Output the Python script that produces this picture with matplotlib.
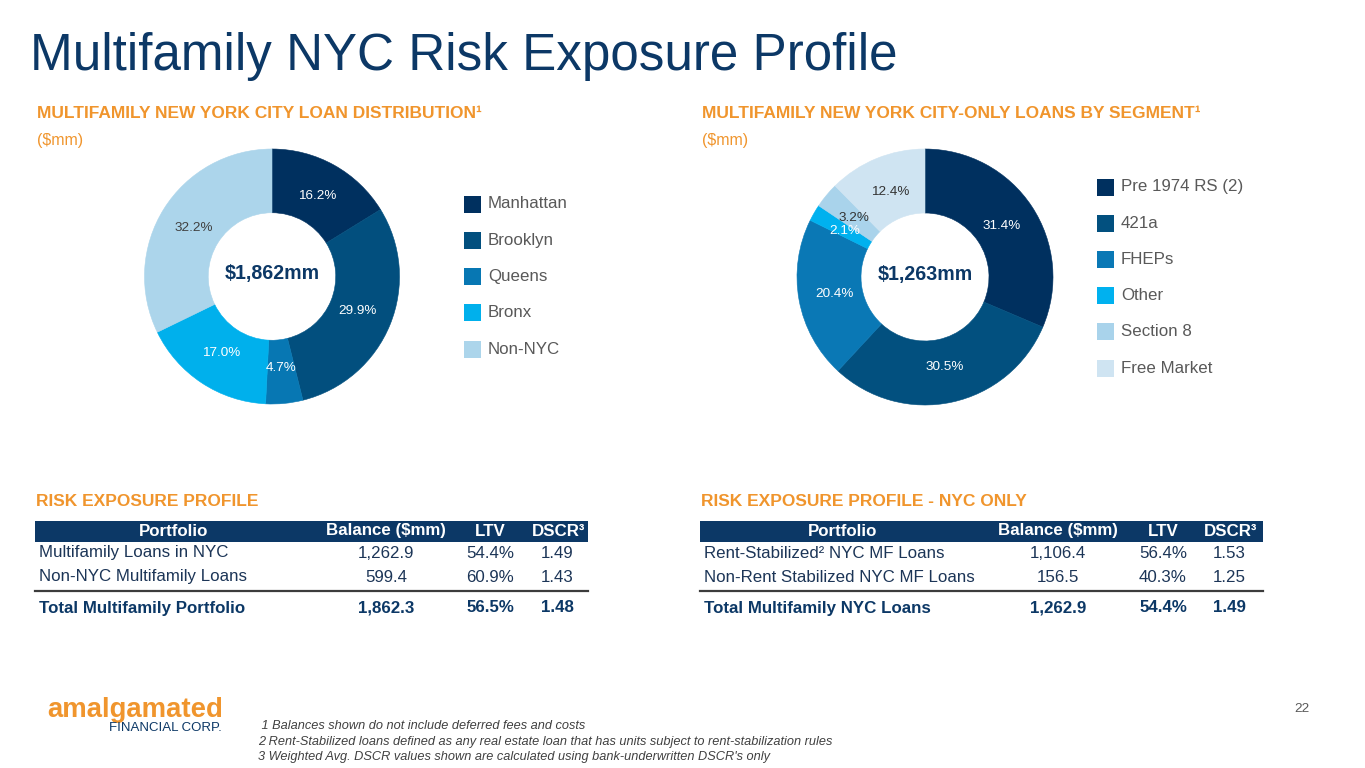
import matplotlib
matplotlib.use("Agg")
import matplotlib.pyplot as plt
from matplotlib.patches import Rectangle
from matplotlib.lines import Line2D
from matplotlib import font_manager

# ---------------- data ----------------
title = "Multifamily NYC Risk Exposure Profile"

dist_labels = ["Manhattan", "Brooklyn", "Queens", "Bronx", "Non-NYC"]
dist_values = [16.2, 29.9, 4.7, 17.0, 32.2]
dist_total = "$1,862mm"

seg_labels = ["Pre 1974 RS (2)", "421a", "FHEPs", "Other", "Section 8", "Free Market"]
seg_values = [31.4, 30.5, 20.4, 2.1, 3.2, 12.4]
seg_total = "$1,263mm"

table_cols = ["Portfolio", "Balance ($mm)", "LTV", "DSCR³"]

t1_rows = ["Multifamily Loans in NYC", "Non-NYC Multifamily Loans"]
t1_balance = [1262.9, 599.4]
t1_ltv = [54.4, 60.9]
t1_dscr = [1.49, 1.43]
t1_total_label = "Total Multifamily Portfolio"
t1_total = [1862.3, 56.5, 1.48]

t2_rows = ["Rent-Stabilized² NYC MF Loans", "Non-Rent Stabilized NYC MF Loans"]
t2_balance = [1106.4, 156.5]
t2_ltv = [56.4, 40.3]
t2_dscr = [1.53, 1.25]
t2_total_label = "Total Multifamily NYC Loans"
t2_total = [1262.9, 54.4, 1.49]

footnotes = [" 1 Balances shown do not include deferred fees and costs",
             "2 Rent-Stabilized loans defined as any real estate loan that has units subject to rent-stabilization rules",
             "3 Weighted Avg. DSCR values shown are calculated using bank-underwritten DSCR's only"]

# ---------------- style ----------------
NAVY = "#0c3866"
ORANGE = "#f0952d"
GREY = "#595959"
ROWTXT = "#1c3557"
dist_colors = ["#00305f", "#024f7e", "#0777b3", "#00b0ec", "#acd5eb"]
dist_lblcol = ["white", "white", "white", "white", "#404040"]
seg_colors = ["#00305f", "#02507f", "#0a78b5", "#00b1ef", "#a9d3eb", "#cfe4f2"]
seg_lblcol = ["white", "white", "white", "white", "#333333", "#333333"]

FONT = "Liberation Sans"
names = {f.name for f in font_manager.fontManager.ttflist}
NARROW = "Liberation Sans Narrow" if "Liberation Sans Narrow" in names else FONT
plt.rcParams["font.family"] = [FONT, "DejaVu Sans"]

W, H = 1365, 768
fig = plt.figure(figsize=(W / 100, H / 100), dpi=100)
fig.patch.set_facecolor("white")


def fx(x):
    return x / W


def fy(y):
    return 1 - y / H


def txt(x, y, s, **kw):
    kw.setdefault("va", "center")
    return fig.text(fx(x), fy(y), s, **kw)


# title
txt(30, 70, title, fontsize=36.8, color=NAVY, va="baseline")

# section headers
txt(37, 113, "MULTIFAMILY NEW YORK CITY LOAN DISTRIBUTION¹", fontsize=12.5,
    color=ORANGE, fontweight="bold")
txt(37, 141, "($mm)", fontsize=11.5, color=ORANGE)
txt(702, 113, "MULTIFAMILY NEW YORK CITY-ONLY LOANS BY SEGMENT¹", fontsize=12.5,
    color=ORANGE, fontweight="bold")
txt(702, 141, "($mm)", fontsize=11.5, color=ORANGE)


def donut(cx, cy, R, values, colors, lblcols, center_text):
    ax = fig.add_axes([fx(cx - R), fy(cy + R), 2 * R / W, 2 * R / H])
    wedges, _, autotexts = ax.pie(
        values, colors=colors, startangle=90, counterclock=False, radius=1,
        wedgeprops=dict(width=0.5, linewidth=0.4),
        autopct=lambda p: f"{p:.1f}%", pctdistance=0.72,
        textprops=dict(fontsize=9.7))
    for w, c in zip(wedges, colors):
        w.set_edgecolor(c)
    for t, c in zip(autotexts, lblcols):
        t.set_color(c)
    ax.set_xlim(-1, 1)
    ax.set_ylim(-1, 1)
    ax.set_aspect("equal")
    ax.axis("off")
    ax.text(0, 0.02, center_text, ha="center", va="center", fontsize=14.1,
            fontweight="bold", color=NAVY)
    return ax


donut(272, 276.5, 127.5, dist_values, dist_colors, dist_lblcol, dist_total)
donut(925, 277, 128, seg_values, seg_colors, seg_lblcol, seg_total)


def legend(x, y0, dy, labels, colors):
    s = 17
    for i, (lab, col) in enumerate(zip(labels, colors)):
        y = y0 + i * dy
        fig.patches.append(Rectangle((fx(x), fy(y + s / 2)), s / W, s / H,
                                     transform=fig.transFigure, facecolor=col,
                                     edgecolor="none"))
        txt(x + 24, y, lab, fontsize=12.2, color=GREY)


legend(464, 204, 36.3, dist_labels, dist_colors)
legend(1097, 187, 36.2, seg_labels, seg_colors)


# tables
def table(x0, x1, colx, header, rows, bal, ltv, dscr, tot_label, tot):
    txt(x0 + 1, 501, header, fontsize=12.5, color=ORANGE, fontweight="bold")
    fig.patches.append(Rectangle((fx(x0), fy(541.5)), (x1 - x0) / W, 20.5 / H,
                                 transform=fig.transFigure, facecolor=NAVY,
                                 edgecolor="none"))
    for c, xc in zip(table_cols, colx):
        txt(xc, 531, c, fontsize=12.2, color="white", fontweight="bold", ha="center")
    ys = [553, 577]
    for y, r, b, l, d in zip(ys, rows, bal, ltv, dscr):
        txt(x0 + 4, y, r, fontsize=12.2, color=ROWTXT)
        txt(colx[1], y, f"{b:,.1f}", fontsize=12.2, color=ROWTXT, ha="center")
        txt(colx[2], y, f"{l:.1f}%", fontsize=12.2, color=ROWTXT, ha="center")
        txt(colx[3] - 2, y, f"{d:.2f}", fontsize=12.2, color=ROWTXT, ha="center")
    fig.add_artist(Line2D([fx(x0), fx(x1)], [fy(591), fy(591)], color="#3c3c3c",
                          linewidth=1.6, transform=fig.transFigure))
    y = 608
    txt(x0 + 4, y, tot_label, fontsize=12.2, color=NAVY, fontweight="bold")
    txt(colx[1], y, f"{tot[0]:,.1f}", fontsize=12.2, color=NAVY, fontweight="bold", ha="center")
    txt(colx[2], y, f"{tot[1]:.1f}%", fontsize=12.2, color=NAVY, fontweight="bold", ha="center")
    txt(colx[3] - 2, y, f"{tot[2]:.2f}", fontsize=12.2, color=NAVY, fontweight="bold", ha="center")


table(35, 588, [174, 386, 490, 559], "RISK EXPOSURE PROFILE",
      t1_rows, t1_balance, t1_ltv, t1_dscr, t1_total_label, t1_total)
table(700, 1263, [843, 1058, 1163, 1231], "RISK EXPOSURE PROFILE - NYC ONLY",
      t2_rows, t2_balance, t2_ltv, t2_dscr, t2_total_label, t2_total)

# logo
txt(47, 717, "amalgamated", fontsize=19.8, color=ORANGE, fontweight="bold",
    va="baseline", family=[FONT, "DejaVu Sans"])
txt(222, 728, "FINANCIAL CORP.", fontsize=9.5, color=NAVY, ha="right",
    family=[NARROW, FONT])

# footnotes
for i, f in enumerate(footnotes):
    txt(258, 726 + i * 15.5, f, fontsize=9.2, color="#404040", style="italic")

# page number
txt(1302, 709, "22", fontsize=9.7, color=GREY, ha="center")

fig.savefig("out.png", dpi=100, facecolor="white")
